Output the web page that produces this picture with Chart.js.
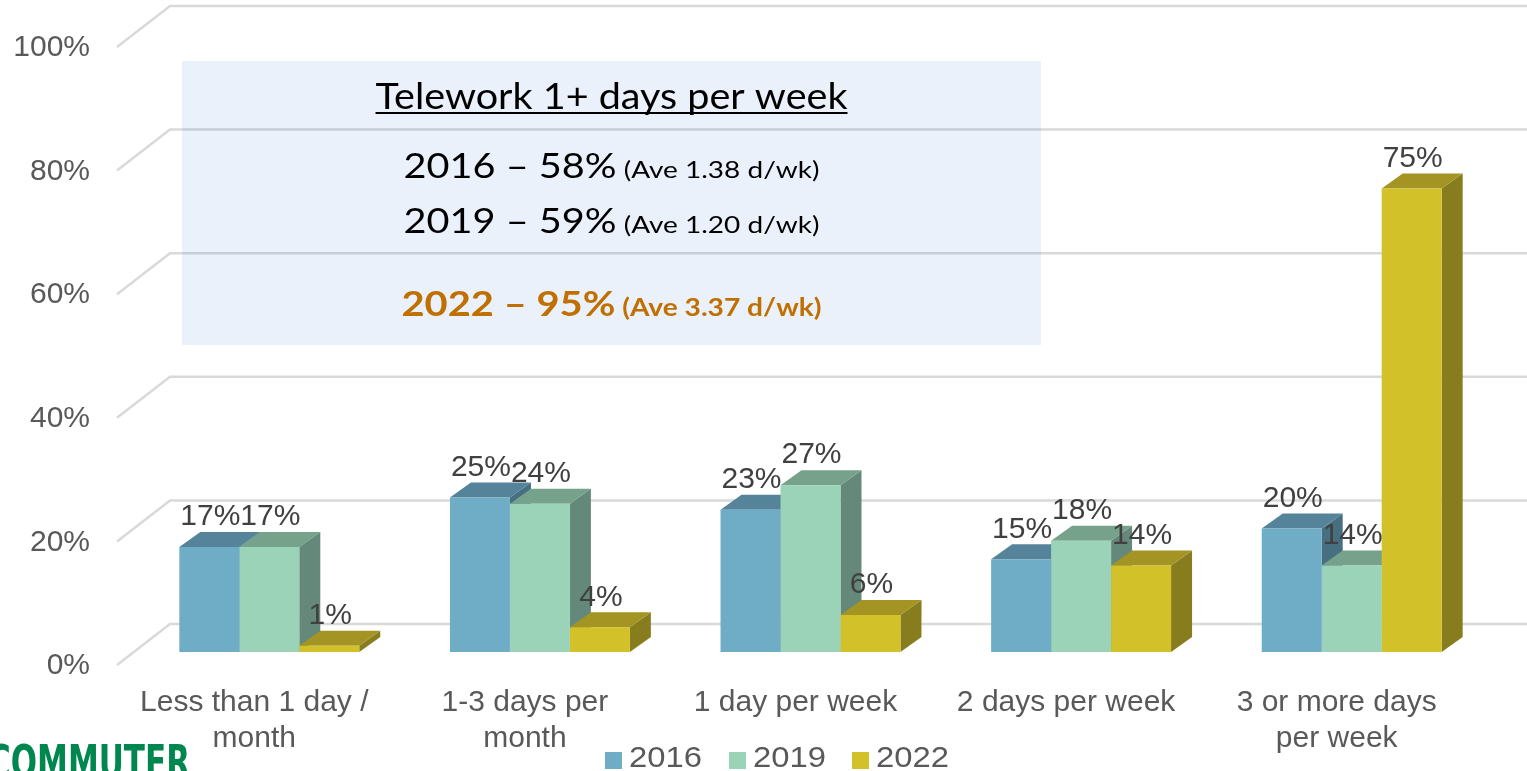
<!DOCTYPE html>
<html><head><meta charset="utf-8">
<script src="https://cdn.jsdelivr.net/npm/chart.js@4.4.1/dist/chart.umd.min.js"></script>
<style>html,body{margin:0;padding:0;background:#fff;overflow:hidden}#wrap{width:1527px;height:771px;position:relative}</style>
</head><body><div id="wrap"><canvas id="c"></canvas></div>
<script>
// ---- data ----
const categories = [["Less than 1 day /","month"],["1-3 days per","month"],"1 day per week","2 days per week",["3 or more days","per week"]];
const seriesNames = ["2016","2019","2022"];
const values2016 = [17,25,23,15,20];
const values2019 = [17,24,27,18,14];
const values2022 = [1,4,6,14,75];
const yTickValues = [0,20,40,60,80,100];
const boxTitle = "Telework 1+ days per week";
const boxLines = [["2016 \u2013 58%"," (Ave 1.38 d/wk)"],["2019 \u2013 59%"," (Ave 1.20 d/wk)"],["2022 \u2013 95%"," (Ave 3.37 d/wk)"]];
const logoText = "COMMUTER";

// ---- styles ----
const frontColors = ['#6facc6','#9bd3b8','#d3c12a'];
const topColors   = ['#54839a','#76a18b','#a39424'];
const sideColors  = ['#466f80','#64887a','#877c1e'];
const FONT = '"Liberation Sans", Arial, sans-serif';
const BOXFONT = 'Lato, "Open Sans", sans-serif';
const DX = 21, DY = 15;

function fitText(ctx, txt, x, y, targetW) {
  const w = ctx.measureText(txt).width;
  ctx.save();
  ctx.translate(x, y);
  ctx.scale(targetW / w, 1);
  ctx.fillText(txt, 0, 0);
  ctx.restore();
}

const threeD = {
  id: 'threeD',
  beforeDraw(chart) {
    const ctx = chart.ctx;
    ctx.save();
    ctx.fillStyle = '#eaf1fb';
    ctx.fillRect(182, 61, 859, 284);
    const cx = 611.5;
    ctx.fillStyle = '#000';
    ctx.textBaseline = 'alphabetic';
    ctx.textAlign = 'left';
    ctx.font = '36px ' + BOXFONT;
    fitText(ctx, boxTitle, cx - 236, 109, 472);
    ctx.fillRect(cx - 236, 112, 472, 2);
    const ys = [178, 233, 316];
    const targetW = [416, 416, 420];
    boxLines.forEach((ln, i) => {
      const bold = i === 2 ? 'bold ' : '';
      const bf = bold + '34px ' + BOXFONT, sf = bold + '24px ' + BOXFONT;
      ctx.font = bf; const w1 = ctx.measureText(ln[0]).width;
      ctx.font = sf; const w2 = ctx.measureText(ln[1]).width;
      const k = targetW[i] / (w1 + w2);
      const x0 = cx - targetW[i] / 2;
      ctx.fillStyle = i === 2 ? '#c07000' : '#000';
      ctx.font = bf; fitText(ctx, ln[0], x0, ys[i], w1 * k);
      ctx.font = sf; fitText(ctx, ln[1], x0 + w1 * k, ys[i], w2 * k);
    });
    ctx.restore();
  },
  beforeDatasetsDraw(chart) {
    const ctx = chart.ctx;
    const y = chart.scales.y;
    ctx.save();
    ctx.strokeStyle = 'rgba(0,0,0,0.15)';
    ctx.lineWidth = 2.5;
    yTickValues.forEach(v => {
      const p = y.getPixelForValue(v);
      ctx.beginPath();
      ctx.moveTo(117, p + 13);
      ctx.lineTo(170, p - 28);
      ctx.lineTo(chart.width, p - 28);
      ctx.stroke();
    });
    const n = chart.data.labels.length;
    for (let i = 0; i < n; i++) {
      chart.data.datasets.forEach((ds, d) => {
        const el = chart.getDatasetMeta(d).data[i];
        const {x, y: top, base, width} = el.getProps(['x','y','base','width'], true);
        const l = x - width/2, r = x + width/2;
        ctx.fillStyle = sideColors[d];
        ctx.beginPath();
        ctx.moveTo(r, top); ctx.lineTo(r + DX, top - DY); ctx.lineTo(r + DX, base - DY); ctx.lineTo(r, base);
        ctx.closePath(); ctx.fill();
        ctx.fillStyle = topColors[d];
        ctx.beginPath();
        ctx.moveTo(l, top); ctx.lineTo(l + DX, top - DY); ctx.lineTo(r + DX, top - DY); ctx.lineTo(r, top);
        ctx.closePath(); ctx.fill();
      });
    }
    ctx.restore();
  },
  afterDatasetsDraw(chart) {
    const ctx = chart.ctx;
    ctx.save();
    ctx.font = '30px ' + FONT;
    ctx.fillStyle = '#404040';
    ctx.textAlign = 'center';
    ctx.textBaseline = 'middle';
    chart.data.datasets.forEach((ds, d) => {
      chart.getDatasetMeta(d).data.forEach((el, i) => {
        const {x, y} = el.getProps(['x','y'], true);
        ctx.fillText(ds.data[i] + '%', x + 1, y - 30);
      });
    });
    ctx.textAlign = 'left';
    const legendX = [605, 729, 852];
    chart.data.datasets.forEach((ds, d) => {
      const lx = legendX[d];
      ctx.fillStyle = ds.backgroundColor;
      ctx.fillRect(lx, 752, 17, 17);
      ctx.fillStyle = '#595959';
      ctx.font = '30px ' + FONT;
      fitText(ctx, ds.label, lx + 24, 759, 73);
    });
    ctx.fillStyle = '#00874f';
    ctx.font = 'bold 46px "DejaVu Sans Condensed", "DejaVu Sans", sans-serif';
    ctx.textBaseline = 'alphabetic';
    fitText(ctx, logoText, -12, 778, 202);
    ctx.restore();
  }
};

new Chart(document.getElementById('c'), {
  type: 'bar',
  data: {
    labels: categories,
    datasets: [
      { label: seriesNames[0], data: values2016, backgroundColor: frontColors[0] },
      { label: seriesNames[1], data: values2019, backgroundColor: frontColors[1] },
      { label: seriesNames[2], data: values2022, backgroundColor: frontColors[2] }
    ]
  },
  options: {
    responsive: true,
    maintainAspectRatio: false,
    animation: false,
    devicePixelRatio: 1,
    layout: { padding: { top: 34, right: 40, bottom: 0, left: 0 } },
    datasets: { bar: { categoryPercentage: 0.665, barPercentage: 1, borderWidth: 0 } },
    plugins: { legend: { display: false }, tooltip: { enabled: false } },
    scales: {
      x: {
        grid: { display: false, drawTicks: false },
        border: { display: false },
        ticks: { color: '#595959', font: { family: FONT, size: 30, lineHeight: 1.2 }, padding: 33, labelOffset: -15, maxRotation: 0, autoSkip: false },
        afterFit(s) { s.height = 119; s.paddingLeft = 0; s.paddingRight = 0; }
      },
      y: {
        min: 0, max: 100,
        grid: { display: false, drawTicks: false },
        border: { display: false },
        ticks: { stepSize: 20, color: '#595959', font: { family: FONT, size: 30 }, padding: 44, labelOffset: 14, callback: v => v + '%' },
        afterFit(s) { s.width = 134; s.paddingTop = 0; s.paddingBottom = 0; }
      }
    }
  },
  plugins: [threeD]
});
</script></body></html>
